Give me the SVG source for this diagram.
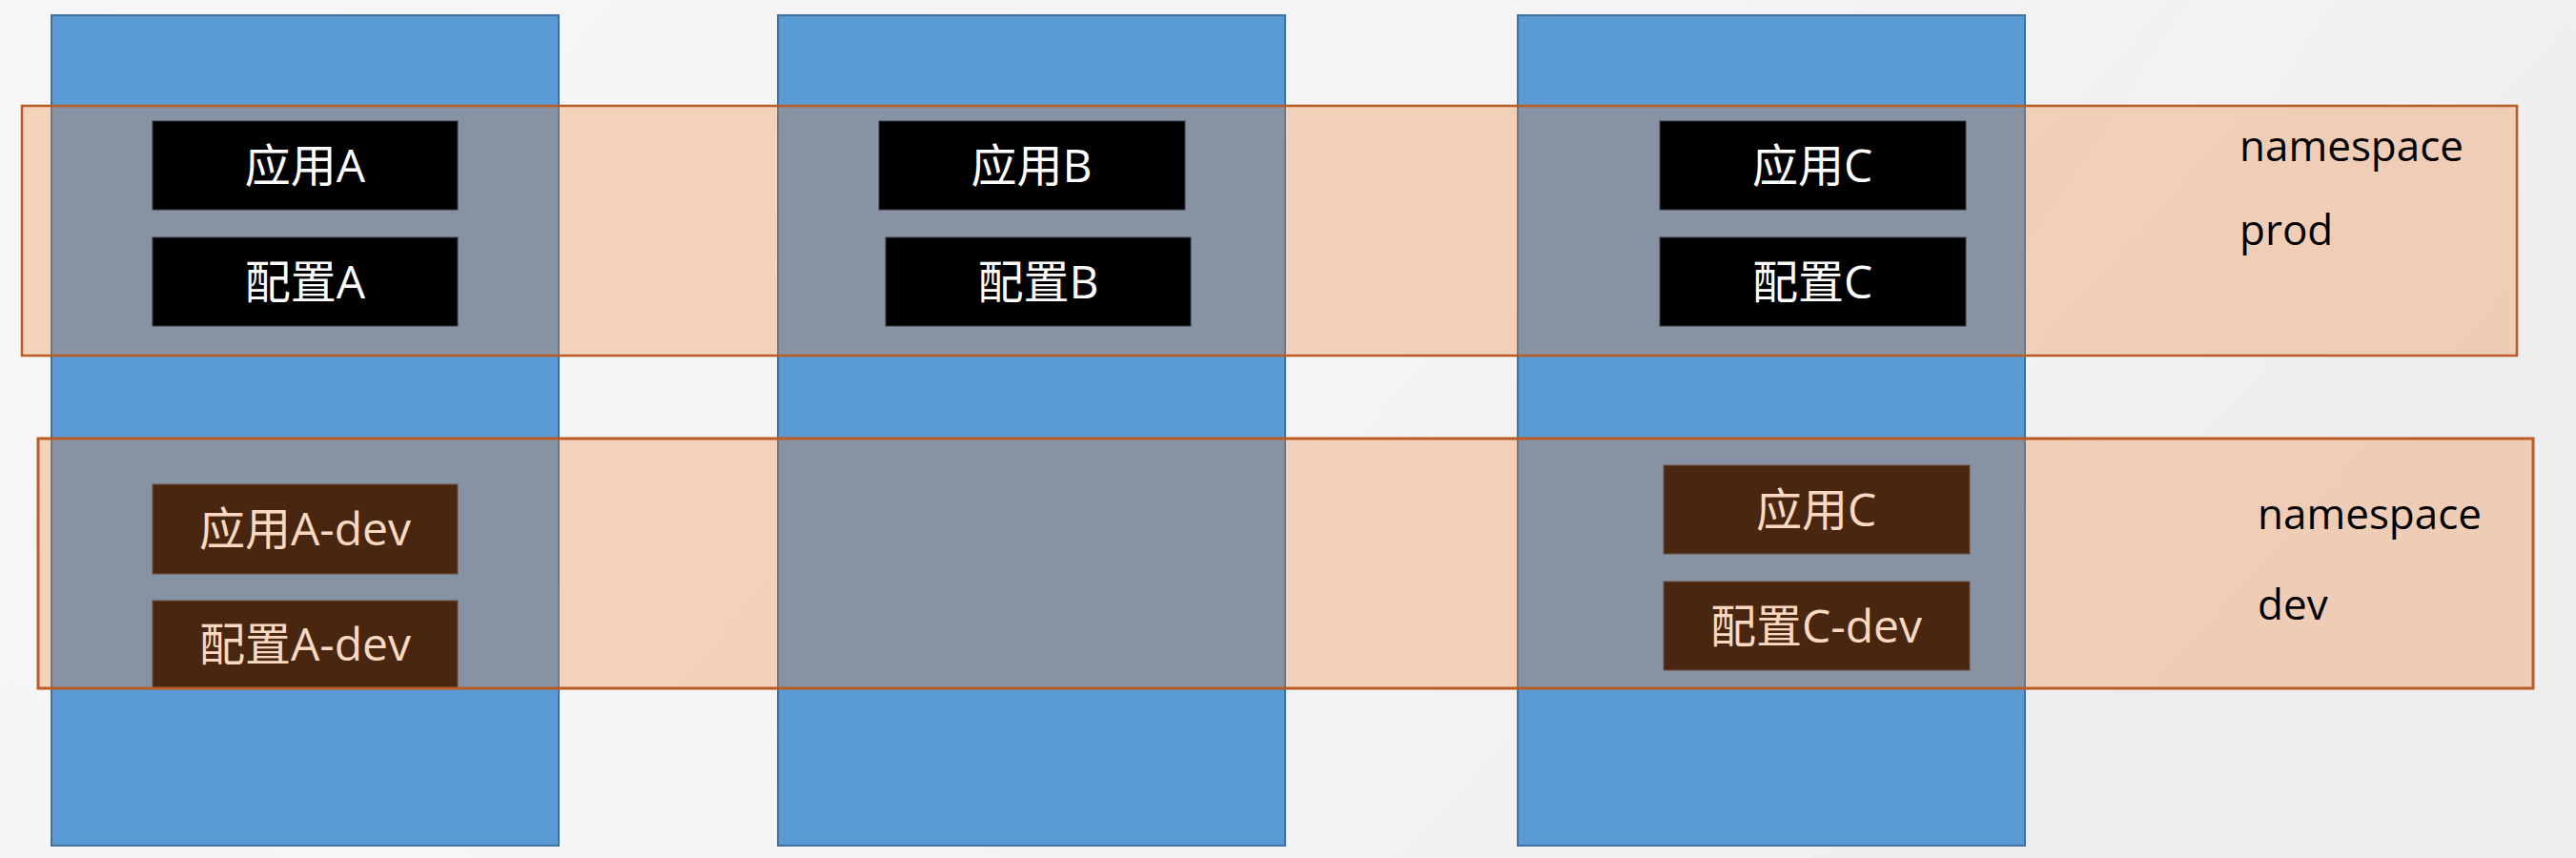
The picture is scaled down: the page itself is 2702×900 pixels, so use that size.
<svg xmlns="http://www.w3.org/2000/svg" width="2702" height="900" viewBox="0 0 2702 900">
<defs>
<linearGradient id="bg" x1="0" y1="0" x2="1" y2="0.3">
<stop offset="0" stop-color="#F7F7F7"/>
<stop offset="0.6" stop-color="#F4F4F4"/>
<stop offset="1" stop-color="#EEEEEE"/>
</linearGradient>
<style>
.col{fill:#5B9BD5;stroke:#41719C;stroke-width:2}
.band{fill:#ED7D31;fill-opacity:0.3;stroke:#B85C24;stroke-width:2.5}
.box{fill:#000000;stroke:#3A3F4A;stroke-width:1}
.bt{font-family:"Open Sans","Noto Sans CJK SC",sans-serif;font-size:48px;fill:#FFFFFF;text-anchor:middle}
.ns{font-family:"Open Sans","Noto Sans",sans-serif;font-size:44px;fill:#000000}
</style>
</defs>
<rect x="0" y="0" width="2702" height="900" fill="url(#bg)"/>
<polygon points="1700,900 2300,0 2450,0 1900,900" fill="#FFFFFF" opacity="0.12"/>
<polygon points="0,560 500,900 300,900 0,700" fill="#FFFFFF" opacity="0.2"/>

<g id="column-1"><rect class="col" x="54" y="16" width="532" height="871"/></g>
<g id="column-2"><rect class="col" x="816" y="16" width="532" height="871"/></g>
<g id="column-3"><rect class="col" x="1592" y="16" width="532" height="871"/></g>

<g id="namespace-prod"><rect class="band" x="23" y="111" width="2617" height="262"/></g>

<g id="app-a"><rect class="box" x="160" y="127" width="320" height="93"/><text class="bt" x="320" y="191">应用A</text></g>
<g id="config-a"><rect class="box" x="160" y="249" width="320" height="93"/><text class="bt" x="320" y="313">配置A</text></g>
<g id="app-b"><rect class="box" x="922" y="127" width="321" height="93"/><text class="bt" x="1082" y="191">应用B</text></g>
<g id="config-b"><rect class="box" x="929" y="249" width="320" height="93"/><text class="bt" x="1089" y="313">配置B</text></g>
<g id="app-c"><rect class="box" x="1741" y="127" width="321" height="93"/><text class="bt" x="1901" y="191">应用C</text></g>
<g id="config-c"><rect class="box" x="1741" y="249" width="321" height="93"/><text class="bt" x="1901" y="313">配置C</text></g>

<g id="app-a-dev"><rect class="box" x="160" y="508" width="320" height="94"/><text class="bt" x="320" y="572">应用A-dev</text></g>
<g id="config-a-dev"><rect class="box" x="160" y="630" width="320" height="92"/><text class="bt" x="320" y="693">配置A-dev</text></g>
<g id="app-c-dev"><rect class="box" x="1745" y="488" width="321" height="93"/><text class="bt" x="1905" y="552">应用C</text></g>
<g id="config-c-dev"><rect class="box" x="1745" y="610" width="321" height="93"/><text class="bt" x="1905" y="674">配置C-dev</text></g>

<g id="namespace-dev"><rect class="band" x="40" y="460" width="2617" height="262" style="stroke-width:3"/></g>

<g id="label-prod"><text class="ns" x="2349" y="169">namespace</text><text class="ns" x="2349" y="257">prod</text></g>
<g id="label-dev"><text class="ns" x="2368" y="555">namespace</text><text class="ns" x="2368" y="650">dev</text></g>

<g id="connectors"/>
</svg>
